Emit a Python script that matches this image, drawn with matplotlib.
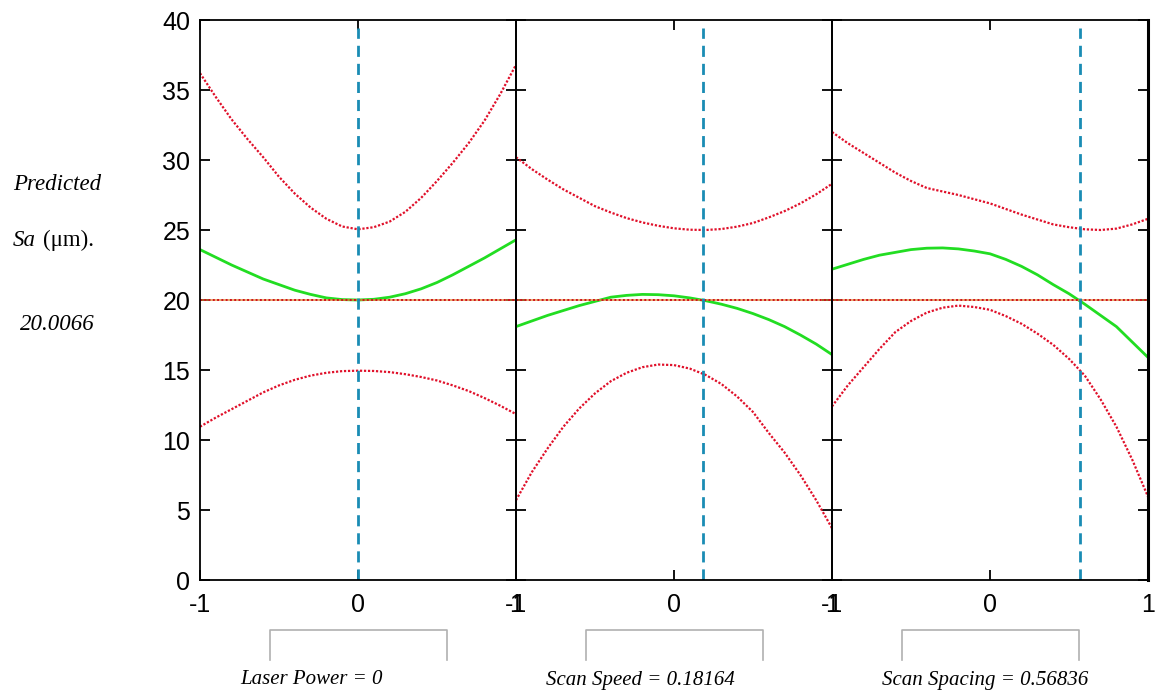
import matplotlib.pyplot as plt
import numpy as np

# coded factor levels, same grid in every panel
x = [-1.0, -0.9, -0.8, -0.7, -0.6, -0.5, -0.4, -0.3, -0.2, -0.1, 0.0,
     0.1, 0.2, 0.3, 0.4, 0.5, 0.6, 0.7, 0.8, 0.9, 1.0]

# Laser Power
lp_pred = [23.6, 23.05, 22.5, 22.0, 21.5, 21.1, 20.7, 20.4, 20.15, 20.03, 20.0,
           20.05, 20.2, 20.45, 20.8, 21.25, 21.8, 22.4, 23.0, 23.65, 24.3]
lp_hi = [36.2, 34.5, 32.9, 31.5, 30.2, 28.8, 27.6, 26.6, 25.8, 25.25, 25.05,
         25.2, 25.6, 26.3, 27.3, 28.5, 29.8, 31.2, 32.8, 34.7, 36.8]
lp_lo = [10.95, 11.6, 12.2, 12.8, 13.4, 13.9, 14.3, 14.6, 14.8, 14.92, 14.95,
         14.93, 14.85, 14.7, 14.5, 14.25, 13.9, 13.5, 13.0, 12.45, 11.85]

# Scan Speed
ss_pred = [18.1, 18.5, 18.9, 19.25, 19.6, 19.9, 20.2, 20.33, 20.4, 20.38, 20.3,
           20.15, 19.95, 19.7, 19.4, 19.03, 18.6, 18.1, 17.5, 16.85, 16.1]
ss_hi = [30.2, 29.35, 28.6, 27.9, 27.3, 26.7, 26.25, 25.85, 25.54, 25.3, 25.12,
         25.02, 25.0, 25.07, 25.24, 25.5, 25.9, 26.35, 26.9, 27.55, 28.3]
ss_lo = [5.7, 7.7, 9.4, 10.95, 12.25, 13.33, 14.2, 14.8, 15.2, 15.39, 15.35,
         15.1, 14.65, 14.0, 13.1, 12.0, 10.5, 9.1, 7.5, 5.7, 3.7]

# Scan Spacing
sp_pred = [22.2, 22.55, 22.9, 23.2, 23.4, 23.6, 23.7, 23.72, 23.65, 23.5, 23.3,
           22.9, 22.4, 21.8, 21.1, 20.45, 19.7, 18.9, 18.1, 17.0, 15.9]
sp_hi = [32.0, 31.2, 30.5, 29.8, 29.1, 28.5, 28.0, 27.75, 27.5, 27.2, 26.9,
         26.5, 26.1, 25.75, 25.4, 25.2, 25.05, 25.0, 25.1, 25.4, 25.8]
sp_lo = [12.4, 13.9, 15.2, 16.5, 17.7, 18.5, 19.1, 19.45, 19.6, 19.5, 19.3,
         18.85, 18.3, 17.6, 16.8, 15.8, 14.6, 12.9, 10.95, 8.6, 5.95]

settings = [0, 0.18164, 0.56836]
names = ["Laser Power", "Scan Speed", "Scan Spacing"]
y_pred = 20.0066

preds = [lp_pred, ss_pred, sp_pred]
his = [lp_hi, ss_hi, sp_hi]
los = [lp_lo, ss_lo, sp_lo]

fig = plt.figure(figsize=(11.58, 6.94), dpi=100)
W, H = 1158, 694
left, top, bottom = 200, 20, 580
pw = 316

for i in range(3):
    ax = fig.add_axes([(left + i * pw) / W, 1 - bottom / H, pw / W, (bottom - top) / H])
    ax.plot(x, his[i], color="#e0102a", lw=1.6, ls=(0, (1, 0.8)))
    ax.plot(x, los[i], color="#e0102a", lw=1.6, ls=(0, (1, 0.8)))
    ax.plot(x, preds[i], color="#22dd22", lw=2)
    ax.axhline(y_pred, color="#e08a30", lw=1.4, alpha=0.7)
    ax.axhline(y_pred, color="#d01020", lw=1.4, ls=(0, (1, 1.2)))
    ax.axvline(settings[i], ymax=0.985, color="#1a8cb4", lw=2, ls=(0, (4, 2.5)))
    ax.set_xlim(-1, 1)
    ax.set_ylim(0, 40)
    ax.set_xticks([-1, 0, 1])
    ax.set_xticklabels(["-1", "0", "1"])
    ax.set_yticks(range(0, 41, 5))
    ax.tick_params(direction="in", length=7, width=1.3, top=True, right=True,
                   labelsize=18, colors="black")
    ax.tick_params(axis="x", pad=9)
    ax.tick_params(axis="y", pad=7)
    if i > 0:
        ax.tick_params(labelleft=False)
    for lab in ax.get_xticklabels() + ax.get_yticklabels():
        lab.set_fontfamily("Liberation Sans")
    for s in ax.spines.values():
        s.set_linewidth(1.3)
    if i == 2:
        ax.spines["right"].set_linewidth(2.2)
    ax.patch.set_alpha(0)

    # empty slider boxes under each panel
    bx0 = left + i * pw + 70
    bw = 177
    fig.add_artist(plt.Line2D([bx0 / W, bx0 / W, (bx0 + bw) / W, (bx0 + bw) / W],
                              [1 - 660 / H, 1 - 630 / H, 1 - 630 / H, 1 - 660 / H],
                              color="#b0b0b0", lw=1.2))

labels_x = [312, 640, 985]
for i in range(3):
    val = "0" if settings[i] == 0 else f"{settings[i]:g}"
    fig.text(labels_x[i] / W, 1 - 680 / H, f"{names[i]} = {val}", ha="center", va="center",
             fontsize=15, style="italic", family="Liberation Serif")

fig.text(57 / W, 1 - 185 / H, "Predicted", ha="center", va="center",
         fontsize=16.5, style="italic", family="Liberation Serif")
fig.text(36 / W, 1 - 240 / H, "Sa", ha="right", va="center",
         fontsize=16.5, style="italic", family="Liberation Serif")
fig.text(43 / W, 1 - 240 / H, "(μm).", ha="left", va="center",
         fontsize=16.5, family="Liberation Serif")
fig.text(57 / W, 1 - 325 / H, f"{y_pred:.4f}", ha="center", va="center",
         fontsize=16.5, style="italic", family="Liberation Serif")

fig.savefig("out.png", dpi=100)
